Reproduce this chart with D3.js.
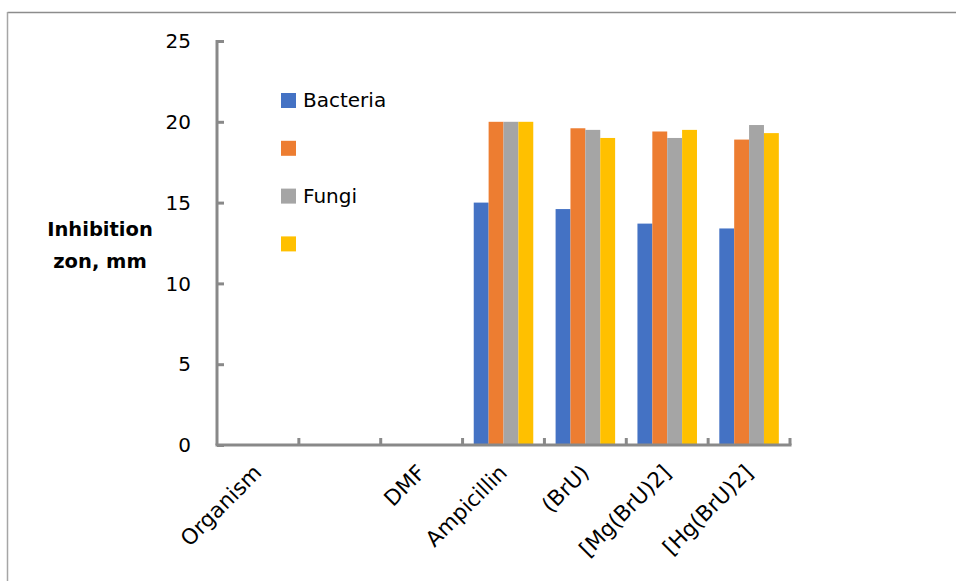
<!DOCTYPE html>
<html>
<head>
<meta charset="utf-8">
<script src="https://cdn.jsdelivr.net/npm/d3@7/dist/d3.min.js"></script>
<style>
  html, body { margin: 0; padding: 0; background: #fff; }
  svg { display: block; }
  text { font-family: "DejaVu Sans", "Noto Sans", sans-serif; fill: #000; }
</style>
</head>
<body>
<svg id="chart" width="956" height="581"></svg>
<script>
// Compounds tested (one placeholder category has no label and no bars)
const categories = ["Organism", "", "DMF", "Ampicillin", "(BrU)", "[Mg(BrU)2]", "[Hg(BrU)2]"];
const seriesNames = ["Bacteria", "", "Fungi", ""];
const seriesColors = ["#4472C4", "#ED7D31", "#A5A5A5", "#FFC000"];

// Inhibition zone (mm) per series, aligned with categories (null = no bar)
const bacteriaA = [null, null, null, 15.0, 14.6, 13.7, 13.4];
const bacteriaB = [null, null, null, 20.0, 19.6, 19.4, 18.9];
const fungiA    = [null, null, null, 20.0, 19.5, 19.0, 19.8];
const fungiB    = [null, null, null, 20.0, 19.0, 19.5, 19.3];
const seriesValues = [bacteriaA, bacteriaB, fungiA, fungiB];

const yTicks = [0, 5, 10, 15, 20, 25];

const svg = d3.select("#chart");
const plot = { left: 217, right: 790, top: 41, bottom: 445 };

// Outer frame
svg.append("line").attr("x1", 7.5).attr("x2", 956).attr("y1", 12.5).attr("y2", 12.5)
  .attr("stroke", "#8c8c8c").attr("stroke-width", 1.5);
svg.append("line").attr("x1", 7.5).attr("x2", 7.5).attr("y1", 12).attr("y2", 581)
  .attr("stroke", "#a6a6a6").attr("stroke-width", 1.5);

const x = d3.scaleBand().domain(d3.range(categories.length))
  .range([plot.left, plot.right]).paddingInner(0).paddingOuter(0);
const y = d3.scaleLinear().domain([0, 25]).range([plot.bottom, plot.top]);

// Bars: within each category, 4 bars with a gap of 150% bar width
const bw = x.bandwidth() / (seriesValues.length + 1.5);
const groupOffset = (x.bandwidth() - bw * seriesValues.length) / 2;

seriesValues.forEach((vals, si) => {
  svg.append("g").selectAll("rect")
    .data(vals.map((v, i) => ({ v, i })).filter(d => d.v != null))
    .join("rect")
    .attr("x", d => x(d.i) + groupOffset + si * bw)
    .attr("width", bw)
    .attr("y", d => y(d.v))
    .attr("height", d => y(0) - y(d.v))
    .attr("fill", seriesColors[si]);
});

const axisColor = "#898989";

// Y axis with inward ticks
const yAxis = svg.append("g").attr("transform", `translate(${plot.left},0)`)
  .call(d3.axisRight(y).tickValues(yTicks).tickSize(7).tickFormat(""));
yAxis.select(".domain").attr("stroke", axisColor).attr("stroke-width", 3)
  .attr("d", `M0,${plot.top - 1}V${plot.bottom}`);
yAxis.selectAll(".tick line").attr("stroke", axisColor).attr("stroke-width", 3);

svg.append("g").selectAll("text").data(yTicks).join("text")
  .attr("x", 191).attr("y", d => y(d)).attr("dy", "0.36em")
  .attr("text-anchor", "end").attr("font-size", 20).text(d => d);

// X axis with inward ticks at category boundaries
const xEdges = d3.range(categories.length + 1).map(i => plot.left + i * x.step());
const xAxisG = svg.append("g");
xAxisG.append("line").attr("x1", plot.left - 1.5).attr("x2", plot.right + 1.5)
  .attr("y1", plot.bottom).attr("y2", plot.bottom)
  .attr("stroke", axisColor).attr("stroke-width", 3);
xAxisG.selectAll("line.tk").data(xEdges.slice(1)).join("line").attr("class", "tk")
  .attr("x1", d => d).attr("x2", d => d)
  .attr("y1", plot.bottom).attr("y2", plot.bottom - 7)
  .attr("stroke", axisColor).attr("stroke-width", 3);

// Rotated category labels
svg.append("g").selectAll("text").data(categories.map((c, i) => ({ c, i })).filter(d => d.c))
  .join("text")
  .attr("transform", d => `translate(${x(d.i) + x.bandwidth() / 2 + 5},${plot.bottom + 29}) rotate(-45)`)
  .attr("text-anchor", "end")
  .attr("font-size", 21.5).text(d => d.c);

// Y axis title
const title = svg.append("text").attr("text-anchor", "middle")
  .attr("font-size", 19.5).attr("font-weight", "bold");
title.append("tspan").attr("x", 100).attr("y", 236).text("Inhibition");
title.append("tspan").attr("x", 100).attr("y", 268).text("zon, mm");

// Legend
const legend = svg.append("g").attr("transform", "translate(281,93)");
seriesNames.forEach((name, i) => {
  const g = legend.append("g").attr("transform", `translate(0,${i * 47.8})`);
  g.append("rect").attr("width", 15).attr("height", 15).attr("fill", seriesColors[i]);
  g.append("text").attr("x", 22).attr("y", 14).attr("font-size", 20).text(name);
});
</script>
</body>
</html>
